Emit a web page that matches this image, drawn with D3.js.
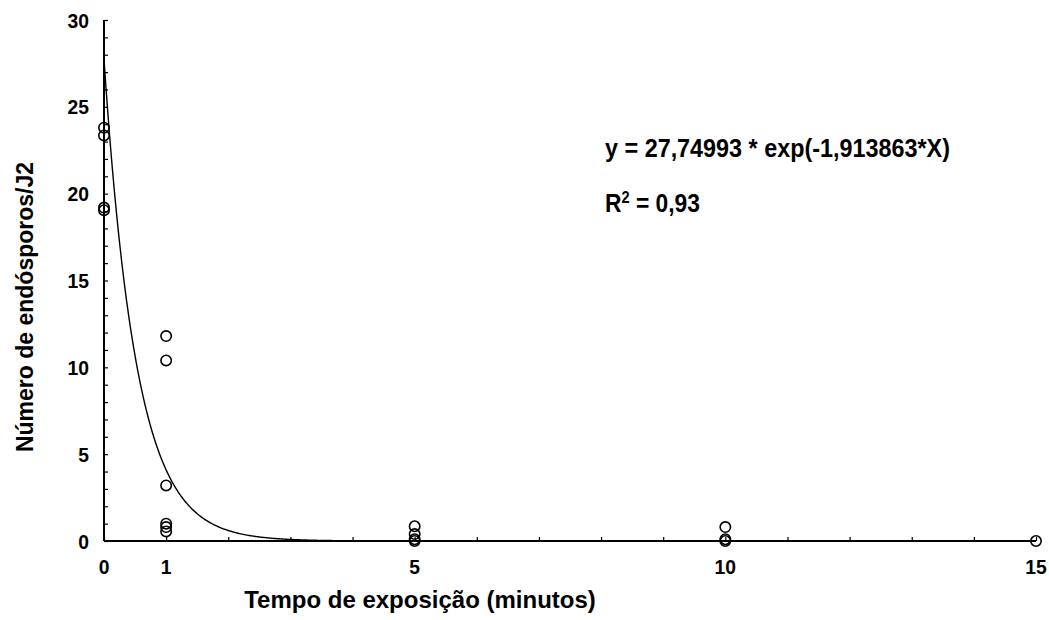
<!DOCTYPE html>
<html>
<head>
<meta charset="utf-8">
<script src="https://cdn.jsdelivr.net/npm/d3@7"></script>
<style>
  body { margin: 0; background: #fff; }
  svg { display: block; font-family: "Liberation Sans", Arial, sans-serif; font-weight: bold; }
</style>
</head>
<body>
<div id="chart"></div>
<script>
// observed points (time in minutes, endospores per J2)
const timeValues  = [0, 0, 0, 0, 1, 1, 1, 1, 1, 1, 5, 5, 5, 5, 10, 10, 10, 15];
const countValues = [23.8, 23.35, 19.2, 19.05, 11.8, 10.4, 3.2, 1.0, 0.8, 0.55, 0.85, 0.4, 0.1, 0, 0.8, 0.1, 0, 0];

// fitted model y = a * exp(b * x)
const fitA = 27.74993;
const fitB = -1.913863;

const xTickLabels = [0, 1, 5, 10, 15];
const yTickLabels = [0, 5, 10, 15, 20, 25, 30];

const width = 1049, height = 620;
const plotBox = { left: 104, right: 1036, top: 20, bottom: 541 };

const svg = d3.select("#chart").append("svg")
  .attr("width", width)
  .attr("height", height);

const x = d3.scaleLinear().domain([0, 15]).range([plotBox.left, plotBox.right]);
const y = d3.scaleLinear().domain([0, 30]).range([plotBox.bottom, plotBox.top]);

// minor ticks every unit, pointing inward
svg.append("g")
  .attr("transform", `translate(0,${plotBox.bottom})`)
  .call(d3.axisTop(x).tickValues(d3.range(0, 16)).tickSize(4).tickFormat(""))
  .call(g => g.select(".domain").remove())
  .selectAll("line").attr("stroke-width", 1.2);

svg.append("g")
  .attr("transform", `translate(${plotBox.left},0)`)
  .call(d3.axisRight(y).tickValues(d3.range(0, 31)).tickSize(4).tickFormat(""))
  .call(g => g.select(".domain").remove())
  .selectAll("line").attr("stroke-width", 1.2);

// axis lines
svg.append("line")
  .attr("x1", x(0)).attr("x2", x(15))
  .attr("y1", y(0)).attr("y2", y(0))
  .attr("stroke", "#000").attr("stroke-width", 2);
svg.append("line")
  .attr("x1", x(0)).attr("x2", x(0))
  .attr("y1", y(0)).attr("y2", y(30))
  .attr("stroke", "#000").attr("stroke-width", 2);

// tick labels (slightly condensed, like the original)
svg.selectAll(".xlab")
  .data(xTickLabels)
  .enter().append("text")
  .attr("transform", d => `translate(${x(d)},574) scale(0.92,1)`)
  .attr("text-anchor", "middle")
  .style("font-size", "21px")
  .text(d => d);

svg.selectAll(".ylab")
  .data(yTickLabels)
  .enter().append("text")
  .attr("transform", d => `translate(89,${y(d) + 7.5}) scale(0.92,1)`)
  .attr("text-anchor", "end")
  .style("font-size", "21px")
  .text(d => d);

// fitted curve
const curveX = d3.range(0, 15.001, 0.02);
svg.append("path")
  .datum(curveX)
  .attr("fill", "none")
  .attr("stroke", "#000")
  .attr("stroke-width", 1.4)
  .attr("d", d3.line()
    .x(d => x(d))
    .y(d => y(fitA * Math.exp(fitB * d))));

// points
svg.selectAll(".pt")
  .data(timeValues)
  .enter().append("circle")
  .attr("cx", d => x(d))
  .attr("cy", (d, i) => y(countValues[i]))
  .attr("r", 5.2)
  .attr("fill", "none")
  .attr("stroke", "#000")
  .attr("stroke-width", 1.6);

// equation text
svg.append("text")
  .attr("x", 605).attr("y", 157)
  .attr("textLength", 345).attr("lengthAdjust", "spacingAndGlyphs")
  .style("font-size", "25px")
  .text("y = 27,74993 * exp(-1,913863*X)");

const r2 = svg.append("text")
  .attr("x", 605).attr("y", 212)
  .attr("textLength", 95).attr("lengthAdjust", "spacingAndGlyphs")
  .style("font-size", "25px");
r2.append("tspan").text("R");
r2.append("tspan").attr("dy", -9).style("font-size", "16px").text("2");
r2.append("tspan").attr("dy", 9).text(" = 0,93");

// axis titles
svg.append("text")
  .attr("x", 420).attr("y", 608)
  .attr("text-anchor", "middle")
  .style("font-size", "24px")
  .text("Tempo de exposição (minutos)");

svg.append("text")
  .attr("transform", "translate(33,307) rotate(-90)")
  .attr("text-anchor", "middle")
  .style("font-size", "23px")
  .text("Número de endósporos/J2");
</script>
</body>
</html>
